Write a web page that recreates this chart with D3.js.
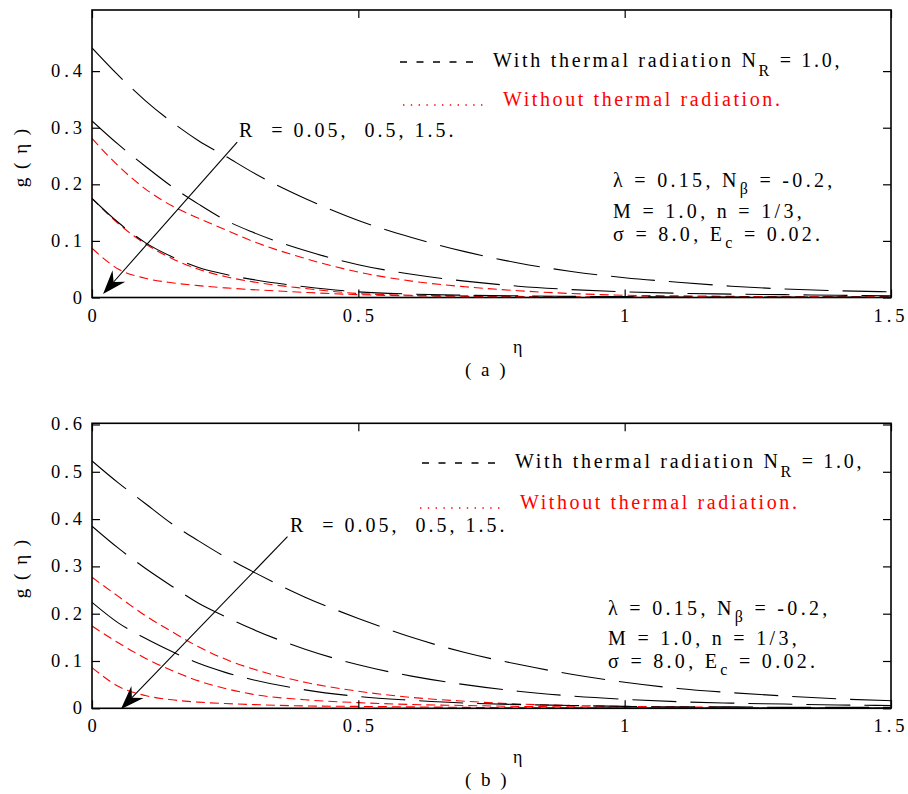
<!DOCTYPE html>
<html><head><meta charset="utf-8">
<script src="https://cdn.jsdelivr.net/npm/d3@7/dist/d3.min.js"></script>
<style>
body{margin:0;background:#fff}
svg text{font-family:"Liberation Serif","Times New Roman",Tinos,"DejaVu Serif",serif;white-space:pre;}
</style>
</head><body>
<svg id="c" width="908" height="794"></svg>
<script>
// ---------- data ----------
const eta = [0,0.05,0.1,0.15,0.2,0.25,0.3,0.4,0.5,0.6,0.7,0.8,0.9,1.0,1.1,1.2,1.3,1.4,1.5];
// panel (a): with thermal radiation (N_R = 1.0), R = 0.05, 0.5, 1.5
const aWithR005 = [0.441,0.392,0.348,0.310,0.277,0.250,0.222,0.175,0.136,0.106,0.081,0.061,0.046,0.035,0.027,0.020,0.015,0.012,0.010];
const aWithR05  = [0.312,0.270,0.232,0.196,0.165,0.137,0.116,0.083,0.058,0.041,0.029,0.020,0.014,0.010,0.0075,0.006,0.005,0.004,0.003];
const aWithR15  = [0.175,0.132,0.097,0.072,0.053,0.041,0.032,0.019,0.010,0.006,0.004,0.003,0.002,0.0015,0.001,0.001,0.001,0.001,0.001];
// panel (a): without thermal radiation
const aNoR005 = [0.281,0.232,0.192,0.162,0.140,0.120,0.100,0.069,0.045,0.029,0.019,0.012,0.007,0.004,0.003,0.002,0.001,0.001,0.001];
const aNoR05  = [0.175,0.130,0.095,0.069,0.050,0.037,0.028,0.016,0.007,0.004,0.003,0.002,0.001,0.001,0.001,0.001,0.001,0.001,0.001];
const aNoR15  = [0.087,0.050,0.034,0.026,0.021,0.017,0.014,0.009,0.005,0.003,0.002,0.001,0.001,0.001,0.001,0.001,0.001,0.001,0.001];
// panel (b): with thermal radiation
const bWithR005 = [0.523,0.476,0.433,0.390,0.354,0.320,0.290,0.235,0.190,0.150,0.118,0.093,0.072,0.055,0.042,0.033,0.026,0.020,0.016];
const bWithR05  = [0.385,0.338,0.296,0.258,0.222,0.194,0.168,0.125,0.092,0.068,0.050,0.036,0.026,0.019,0.014,0.011,0.009,0.007,0.006];
const bWithR15  = [0.224,0.180,0.148,0.120,0.095,0.076,0.061,0.039,0.025,0.017,0.011,0.008,0.006,0.004,0.003,0.003,0.002,0.002,0.002];
// panel (b): without thermal radiation
const bNoR005 = [0.277,0.236,0.196,0.162,0.130,0.104,0.084,0.055,0.036,0.023,0.015,0.009,0.006,0.004,0.003,0.002,0.001,0.001,0.001];
const bNoR05  = [0.174,0.138,0.106,0.080,0.058,0.042,0.030,0.018,0.012,0.008,0.006,0.004,0.003,0.002,0.001,0.001,0.001,0.001,0.001];
const bNoR15  = [0.086,0.046,0.027,0.018,0.013,0.010,0.008,0.005,0.004,0.003,0.002,0.001,0.001,0.001,0.001,0.001,0.001,0.001,0.001];

const xTicks = [0,0.5,1,1.5];
const xTickLabels = ["0","0.5","1","1.5"];
const aYTicks = [0,0.1,0.2,0.3,0.4];
const aYTickLabels = ["0","0.1","0.2","0.3","0.4"];
const bYTicks = [0,0.1,0.2,0.3,0.4,0.5,0.6];
const bYTickLabels = ["0","0.1","0.2","0.3","0.4","0.5","0.6"];

const legendWith = "With thermal radiation N";
const legendWithEnd = " = 1.0,";
const legendWithout = "Without thermal radiation.";
const rLabel = "R  = 0.05,  0.5, 1.5.";

// ---------- drawing ----------
const svg = d3.select("#c");
const FONT = '"Liberation Serif","Times New Roman",Tinos,"DejaVu Serif",serif';
const BLACK_DASH = "44,14", RED_DASH = "9,5";
const FS = 20;

function T(g){ return g.append("text").attr("font-family",FONT); }

function panel(cfg){
  const x = d3.scaleLinear().domain([0,1.5]).range([92,891]);
  const y = d3.scaleLinear().domain([0,cfg.yMax]).range([cfg.bottom,cfg.top]);
  const g = svg.append("g");
  const id = "clip"+cfg.name;
  svg.append("defs").append("clipPath").attr("id",id)
    .append("rect").attr("x",92).attr("y",cfg.top).attr("width",799).attr("height",cfg.bottom-cfg.top);

  const line = d3.line().x((d,i)=>x(eta[i])).y(d=>y(d)).curve(d3.curveMonotoneX);
  const curves = g.append("g").attr("clip-path",`url(#${id})`);
  cfg.no.forEach(s=>curves.append("path").attr("d",line(s)).attr("fill","none")
    .attr("stroke","#ff0000").attr("stroke-width",1.1).attr("stroke-dasharray",RED_DASH));
  cfg.with.forEach(s=>curves.append("path").attr("d",line(s)).attr("fill","none")
    .attr("stroke","#000").attr("stroke-width",1.1).attr("stroke-dasharray",BLACK_DASH));

  // axes (inward ticks)
  const L = 8;
  g.append("g").attr("transform",`translate(92,0)`)
    .call(d3.axisRight(y).tickValues(cfg.yTicks).tickSize(L).tickFormat(""))
    .call(a=>a.select(".domain").remove());
  g.append("g").attr("transform",`translate(891,0)`)
    .call(d3.axisLeft(y).tickValues(cfg.yTicks).tickSize(L).tickFormat(""))
    .call(a=>a.select(".domain").remove());
  g.append("g").attr("transform",`translate(0,${cfg.bottom})`)
    .call(d3.axisTop(x).tickValues(xTicks).tickSize(L).tickFormat(""))
    .call(a=>a.select(".domain").remove());
  g.append("g").attr("transform",`translate(0,${cfg.top})`)
    .call(d3.axisBottom(x).tickValues(xTicks).tickSize(L).tickFormat(""))
    .call(a=>a.select(".domain").remove());
  g.selectAll(".tick line").attr("stroke","#000").attr("stroke-width",1.2);
  g.append("rect").attr("x",92).attr("y",cfg.top).attr("width",799).attr("height",cfg.bottom-cfg.top)
    .attr("fill","none").attr("stroke","#000").attr("stroke-width",1.6);

  // tick labels
  const LS = 4;
  cfg.yTicks.forEach((v,i)=>{
    T(g).attr("x",82+LS).attr("y",y(v)+6).attr("text-anchor","end")
      .attr("font-size",18.5).attr("letter-spacing",LS).text(cfg.yTickLabels[i]);
  });
  xTicks.forEach((v,i)=>{
    T(g).attr("x",x(v)+LS/2 - (i===3?2:0)).attr("y",cfg.bottom+24).attr("text-anchor","middle")
      .attr("font-size",18.5).attr("letter-spacing",LS).text(xTickLabels[i]);
  });
  // axis titles
  T(g).attr("transform",`translate(27,${cfg.ylabY}) rotate(-90)`).attr("text-anchor","middle")
    .attr("font-size",19).attr("letter-spacing",2).text("g ( η )");
  T(g).attr("x",513).attr("y",cfg.bottom+55).attr("font-size",18).text("η");
  T(g).attr("x",465).attr("y",cfg.bottom+78).attr("font-size",19).attr("letter-spacing",2.5).text(cfg.caption);

  // legend
  const lx = cfg.legX, ly = cfg.legY;
  g.append("line").attr("x1",lx).attr("x2",lx+73).attr("y1",ly-5).attr("y2",ly-5)
    .attr("stroke","#000").attr("stroke-width",1.4).attr("stroke-dasharray","7,9.5");
  const t1 = T(g).attr("x",lx+93).attr("y",ly).attr("font-size",FS).attr("letter-spacing",2.7);
  t1.append("tspan").text(legendWith);
  t1.append("tspan").attr("dy",9).attr("font-size",16).text("R");
  t1.append("tspan").attr("dy",-9).text(legendWithEnd);
  const rx = cfg.redX, ry = cfg.redY;
  g.append("line").attr("x1",rx).attr("x2",rx+80).attr("y1",ry-1).attr("y2",ry-1)
    .attr("stroke","#ff0000").attr("stroke-width",1.5).attr("stroke-dasharray","1.4,6.4");
  T(g).attr("x",rx+100).attr("y",ry).attr("font-size",FS).attr("letter-spacing",2.6)
    .attr("fill","#ff0000").text(legendWithout);

  // R annotation + arrow
  T(g).attr("x",cfg.rText[0]).attr("y",cfg.rText[1]).attr("font-size",FS)
    .attr("letter-spacing",3).text(rLabel);
  const [fx,fy] = [x(cfg.arrow.from[0]), y(cfg.arrow.from[1])];
  const [tx,ty] = [x(cfg.arrow.to[0]), y(cfg.arrow.to[1])];
  const len = Math.hypot(tx-fx,ty-fy), ux=(tx-fx)/len, uy=(ty-fy)/len, nx=-uy, ny=ux;
  const AL=24, AW=8.5, AN=16;
  g.append("line").attr("x1",fx).attr("y1",fy).attr("x2",tx-ux*AN).attr("y2",ty-uy*AN)
    .attr("stroke","#000").attr("stroke-width",1.1);
  g.append("path").attr("d",`M${tx},${ty}L${tx-ux*AL+nx*AW},${ty-uy*AL+ny*AW}L${tx-ux*AN},${ty-uy*AN}L${tx-ux*AL-nx*AW},${ty-uy*AL-ny*AW}Z`)
    .attr("fill","#000");

  // parameter block
  const px = cfg.parX, [b1,b2,b3] = cfg.parY, PLS = 3.3;
  const p1 = T(g).attr("x",px).attr("y",b1).attr("font-size",FS).attr("letter-spacing",PLS);
  p1.append("tspan").text("λ = 0.15, N");
  p1.append("tspan").attr("dy",7).attr("font-size",16).text("β");
  p1.append("tspan").attr("dy",-7).text(" = -0.2,");
  T(g).attr("x",px).attr("y",b2).attr("font-size",FS).attr("letter-spacing",PLS).text("M = 1.0, n = 1/3,");
  const p3 = T(g).attr("x",px).attr("y",b3).attr("font-size",FS).attr("letter-spacing",PLS);
  p3.append("tspan").text("σ = 8.0, E");
  p3.append("tspan").attr("dy",7).attr("font-size",16).text("c");
  p3.append("tspan").attr("dy",-7).text(" = 0.02.");
}

panel({name:"a", top:10, bottom:297.5, yMax:0.508, yTicks:aYTicks, yTickLabels:aYTickLabels,
  with:[aWithR005,aWithR05,aWithR15], no:[aNoR005,aNoR05,aNoR15], caption:"( a )", ylabY:157,
  legX:400, legY:67, redX:403, redY:106, rText:[239,137],
  arrow:{from:[0.2726,0.2747], to:[0.0207,0.0062]},
  parX:613, parY:[187,218,241]});
panel({name:"b", top:423.3, bottom:708.3, yMax:0.6025, yTicks:bYTicks, yTickLabels:bYTickLabels,
  with:[bWithR005,bWithR05,bWithR15], no:[bNoR005,bNoR05,bNoR15], caption:"( b )", ylabY:568,
  legX:422, legY:468, redX:420, redY:509, rText:[290,532],
  arrow:{from:[0.367,0.3628], to:[0.0541,-0.002]},
  parX:608, parY:[615,645,668]});
</script>
</body></html>
